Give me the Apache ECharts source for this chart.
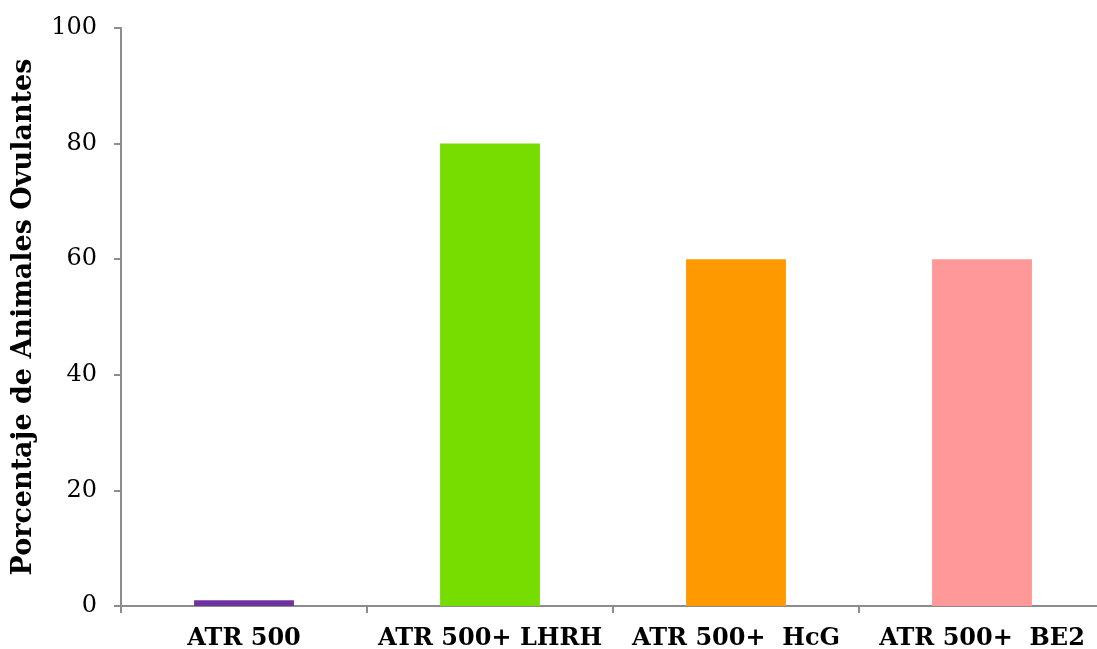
<!DOCTYPE html>
<html>
<head>
<meta charset="utf-8">
<script src="https://cdn.jsdelivr.net/npm/echarts@6/dist/echarts.min.js"></script>
<style>
html,body{margin:0;padding:0;background:#fff;}
#chart{width:1097px;height:649px;}
</style>
</head>
<body>
<div id="chart"></div>
<script>
// Groups and the share of ovulating animals in each (%)
const categories = ['ATR 500', 'ATR 500+ LHRH', 'ATR 500+  HcG', 'ATR 500+  BE2'];
const values = [1, 80, 60, 60];
const barColors = ['#7030A0', '#77DD00', '#FF9900', '#FF9999'];
const yTicks = { min: 0, max: 100, interval: 20 };

const FONT = '"DejaVu Serif", serif';
const chart = echarts.init(document.getElementById('chart'));

chart.setOption({
  animation: false,
  grid: { left: 121, top: 28, width: 984, bottom: 43, containLabel: false, outerBoundsMode: 'none' },
  xAxis: {
    type: 'category',
    data: categories,
    axisLine: { lineStyle: { color: '#8c8c8c', width: 2 } },
    axisTick: { show: true, length: 7, lineStyle: { color: '#8c8c8c', width: 2 } },
    axisLabel: { color: '#000', fontFamily: FONT, fontWeight: 'bold', fontSize: 24, margin: 21, interval: 0 }
  },
  yAxis: {
    type: 'value',
    min: yTicks.min, max: yTicks.max, interval: yTicks.interval,
    name: 'Porcentaje de Animales Ovulantes',
    nameLocation: 'middle',
    nameGap: 84,
    nameTextStyle: { color: '#000', fontFamily: FONT, fontWeight: 'bold', fontSize: 27 },
    splitLine: { show: false },
    axisLine: { show: true, lineStyle: { color: '#8c8c8c', width: 2 } },
    axisTick: { show: true, length: 7, lineStyle: { color: '#8c8c8c', width: 2 } },
    axisLabel: { color: '#000', fontFamily: FONT, fontSize: 24, margin: 24 }
  },
  series: [{
    type: 'bar',
    barWidth: '40.6%',
    data: values.map((v, i) => ({ value: v, itemStyle: { color: barColors[i] } }))
  }]
});
</script>
</body>
</html>
